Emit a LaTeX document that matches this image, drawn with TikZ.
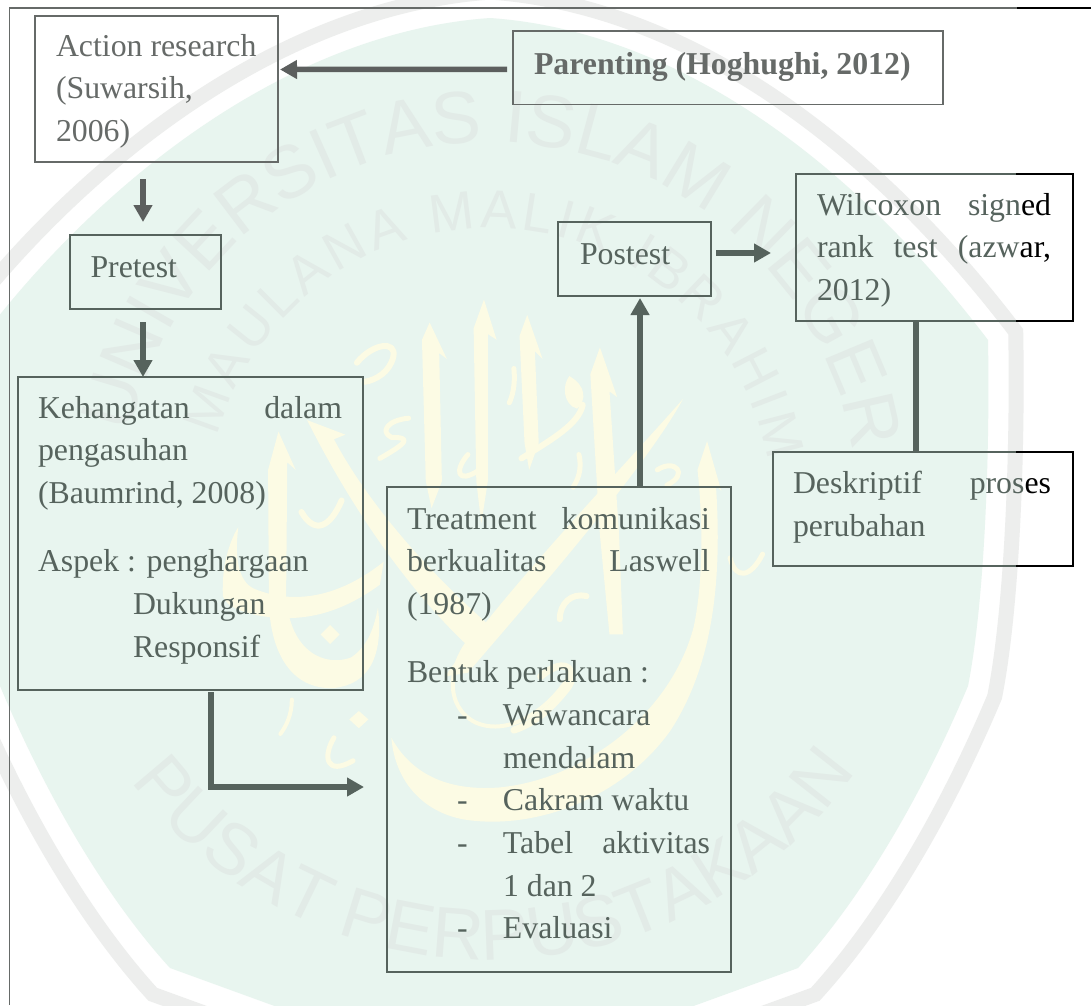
\documentclass[tikz,border=0pt]{standalone}
\usepackage{fontspec}
\setmainfont{Liberation Serif}
\setsansfont{Liberation Sans}
\usetikzlibrary{arrows.meta,decorations.text,calc}
\definecolor{ink}{HTML}{56635D}
\definecolor{inkgrey}{HTML}{666A68}
\definecolor{wmgreen}{HTML}{E8F5EF}
\definecolor{wmring}{HTML}{EDEEED}
\definecolor{wmtext}{HTML}{E2EBE7}
\definecolor{wmyellow}{HTML}{FCFBE4}
\tikzset{
  boxnode/.style={draw=ink,line width=1.5pt,anchor=north west,inner sep=0pt,outer sep=0pt},
  greybox/.style={boxnode,draw=inkgrey},
  label/.style={anchor=base west,inner sep=0pt,outer sep=0pt,text=ink},
  greylabel/.style={label,text=inkgrey},
  arr/.style={draw=ink,line width=5.5pt,-{Triangle[length=17pt,width=18pt]}},
  greyarr/.style={arr,draw=inkgrey!90!black},
  plain/.style={draw=ink,line width=6pt},
  blackedge/.style={draw=black,line width=1.7pt,line cap=rect},
  cal/.style={draw=wmyellow,line cap=round,line join=round},
  calfill/.style={fill=wmyellow},
}
\newcommand{\txt}{\fontsize{31.8}{42.7}\selectfont}
\newcommand{\block}[2]{\parbox[t]{#1}{\setlength{\parindent}{0pt}\txt\raggedright #2}}
\newcommand{\jl}[3]{\makebox[#1][s]{#2\hfill #3}}
\newcommand{\wmpath}{(490,18) .. controls (690,32) and (865,178) .. (988,340) .. controls (990,450) and (985,600) .. (968,686) .. controls (920,800) and (860,900) .. (798,968) -- (600,1040) -- (368,1040) -- (170,968) .. controls (108,900) and (48,800) .. (0,686) .. controls (-17,600) and (-22,450) .. (-20,340) .. controls (103,178) and (290,32) .. (490,18) -- cycle}
\begin{document}
\begin{tikzpicture}[x=1pt,y=-1pt]
\useasboundingbox (0,0) rectangle (1091,1005);
\fill[white] (0,0) rectangle (1091,1005);
% watermark
\begin{scope}
\clip (0,0) rectangle (1091,1005);
\begin{scope}[shift={(484,490)},scale=1.055,shift={(-484,-490)}]
\draw[wmring,line width=15pt] \wmpath;
\end{scope}
\fill[wmgreen] \wmpath;
\path[decorate,decoration={text along path,text align=fit to path,
  text={|\sffamily\fontsize{74}{74}\selectfont\color{wmtext}|UNIVERSITAS ISLAM NEGERI}}]
  plot[domain=168:8,samples=50,variable=\t] ({490+368*cos(\t)},{510-368*sin(\t)});
\path[decorate,decoration={text along path,text align=fit to path,
  text={|\sffamily\fontsize{54}{54}\selectfont\color{wmtext}|MAULANA MALIK IBRAHIM}}]
  plot[domain=165:10,samples=50,variable=\t] ({490+282*cos(\t)},{510-282*sin(\t)});
\path[decorate,decoration={text along path,text align=fit to path,
  text={|\sffamily\fontsize{72}{72}\selectfont\color{wmtext}|PUSAT PERPUSTAKAAN}}]
  plot[domain=217:323,samples=50,variable=\t] ({490+450*cos(\t)},{510-450*sin(\t)});
% calligraphy
\begin{scope}[shift={(200,290)},scale=.3827]
% tall letters
\fill[calfill] (600,85) -- (645,180) -- (625,165) -- (632,500) -- (605,570) -- (590,500) -- (580,130) -- cycle;
\fill[calfill] (742,25) -- (775,130) -- (752,115) -- (752,500) -- (735,610) -- (722,500) -- (715,100) -- cycle;
\fill[calfill] (855,65) -- (895,180) -- (875,160) -- (885,400) -- (860,470) -- (848,400) -- (835,120) -- cycle;
\fill[calfill] (1045,150) -- (1090,280) -- (1070,265) -- (1095,640) -- (1105,900) -- (1070,900) -- (1045,640) -- (1020,220) -- cycle;
\fill[calfill] (205,370) -- (250,470) -- (228,450) -- (225,800) .. controls (235,950) and (330,985) .. (395,960) .. controls (440,930) and (455,880) .. (465,830) .. controls (480,960) and (440,1030) .. (350,1040) .. controls (240,1045) and (185,950) .. (180,820) -- (178,470) -- cycle;
% long bowl, lower right
\fill[calfill] (1325,395) -- (1362,525) -- (1348,510) .. controls (1365,760) and (1340,980) .. (1230,1150) .. controls (1110,1320) and (890,1410) .. (700,1385) .. controls (590,1370) and (510,1290) .. (500,1170) .. controls (550,1260) and (640,1310) .. (780,1300) .. controls (1000,1280) and (1230,1110) .. (1290,880) .. controls (1320,740) and (1310,560) .. (1300,470) -- cycle;
% crossing strokes
\fill[calfill] (280,340) -- (380,378) -- (350,390) .. controls (440,560) and (600,740) .. (760,880) -- (700,930) .. controls (540,780) and (390,560) .. (280,340) -- cycle;
\fill[calfill] (1262,285) .. controls (1160,470) and (880,790) .. (700,1000) -- (640,1010) .. controls (800,780) and (1090,480) .. (1262,285) -- cycle;
\fill[calfill] (60,800) .. controls (55,720) and (80,650) .. (100,620) .. controls (90,700) and (100,760) .. (140,780) .. controls (260,830) and (380,790) .. (480,710) -- (470,770) .. controls (360,850) and (260,870) .. (150,850) .. controls (110,840) and (70,830) .. (60,800) -- cycle;
\draw[cal,line width=4pt] (725,890) .. controls (640,980) and (640,1090) .. (720,1130) .. controls (810,1170) and (920,1090) .. (970,1000);
\draw[cal,line width=7pt] (890,1010) .. controls (960,950) and (990,1000) .. (960,1040) .. controls (920,1090) and (880,1130) .. (820,1150);
% small marks
\draw[cal,line width=6pt] (410,190) .. controls (450,140) and (515,130) .. (505,175) .. controls (495,215) and (460,235) .. (430,240);
\draw[cal,line width=5pt] (470,440) .. controls (540,400) and (555,385) .. (500,385) .. controls (470,370) and (490,340) .. (545,335);
\draw[cal,line width=5pt] (820,205) .. controls (825,250) and (815,280) .. (808,295);
\draw[cal,line width=5pt] (700,430) .. controls (665,470) and (670,510) .. (730,470);
\draw[cal,line width=6pt] (1000,300) .. controls (990,350) and (920,390) .. (840,440);
\fill[calfill] (965,225) .. controls (1010,250) and (1010,290) .. (985,310) .. controls (950,300) and (945,250) .. (965,225) -- cycle;
\draw[cal,line width=5pt] (990,430) .. controls (1000,470) and (985,500) .. (975,515);
\draw[cal,line width=5pt] (1195,470) .. controls (1240,440) and (1280,480) .. (1220,510);
\draw[cal,line width=5pt] (1470,690) .. controls (1440,750) and (1400,760) .. (1385,700);
\fill[calfill] (340,875) -- (365,900) -- (340,925) -- (315,900) -- cycle;
\fill[calfill] (415,1100) -- (440,1122) -- (415,1145) -- (390,1122) -- cycle;
\draw[cal,line width=4pt] (240,1070) .. controls (240,1110) and (225,1140) .. (210,1160);
\draw[cal,line width=5pt] (350,1170) .. controls (320,1220) and (330,1270) .. (400,1230);
\draw[cal,line width=6pt] (370,550) .. controls (340,620) and (300,640) .. (265,580);
\draw[cal,line width=6pt] (1010,800) .. controls (970,790) and (940,820) .. (940,860);
\end{scope}
\end{scope}
% outer frame
\coordinate (cut) at (1017,0);
\coordinate (fnw) at (9.6,8);
\coordinate (fne) at (1091,8);
\coordinate (fsw) at (9.6,1005);
\draw[inkgrey,line width=1.5pt] (fsw) -- (fnw) -- (cut |- fnw);
\draw[black,line width=1.7pt] (cut |- fnw) -- (fne);
% boxes
\node[greybox,minimum width=243pt,minimum height=146pt] (action) at (35,16) {};
\node[greybox,minimum width=430pt,minimum height=73.5pt] (parenting) at (513,31) {};
\node[boxnode,minimum width=151pt,minimum height=74pt] (pretest) at (70,235) {};
\node[boxnode,minimum width=153pt,minimum height=74pt] (postest) at (558,222) {};
\node[boxnode,minimum width=277pt,minimum height=147pt] (wilcoxon) at (796,174) {};
\node[boxnode,minimum width=300pt,minimum height=114pt] (deskriptif) at (773,452) {};
\node[boxnode,minimum width=345pt,minimum height=313pt] (kehangatan) at (18,377) {};
\node[boxnode,minimum width=344pt,minimum height=485pt] (treatment) at (387,487) {};
% black parts of the right-hand boxes
\draw[blackedge] (cut |- wilcoxon.north) -- (wilcoxon.north east) -- (wilcoxon.south east) -- (cut |- wilcoxon.south);
\draw[blackedge] (cut |- deskriptif.north) -- (deskriptif.north east) -- (deskriptif.south east) -- (cut |- deskriptif.south);
% texts
\node[greylabel] (tAction) at (56,56) {\block{215pt}{Action research\\(Suwarsih,\\2006)}};
\node[greylabel] (tParenting) at (534,74) {\txt\bfseries Parenting (Hoghughi, 2012)};
\node[label] (tPretest) at (90.5,277) {\txt Pretest};
\node[label] (tPostest) at (580,264) {\txt Postest};
\node[label] (tWilcoxon) at (817,215) {\block{240pt}{\jl{234pt}{Wilcoxon}{sign\textcolor{black}{ed}}\\\jl{234pt}{rank\hfill test}{(azw\textcolor{black}{ar,}}\\2012)}};
\node[label] (tDeskriptif) at (793,493.5) {\block{265pt}{\jl{258pt}{Deskriptif}{pros\textcolor{black}{es}}\\perubahan}};
\node[label] (tKehangatan) at (38,418) {\block{310pt}{\jl{304pt}{Kehangatan}{dalam}\\pengasuhan\\(Baumrind, 2008)\\[25.5pt]Aspek : penghargaan\\\hspace*{95pt}Dukungan\\\hspace*{95pt}Responsif}};
\node[label] (tTreatment) at (407,529) {\block{310pt}{\jl{303pt}{Treatment}{komunikasi}\\\jl{303pt}{berkualitas}{Laswell}\\(1987)\\[25.5pt]Bentuk perlakuan :\\\hspace*{50pt}\makebox[46pt][l]{-}Wawancara\\\hspace*{96pt}mendalam\\\hspace*{50pt}\makebox[46pt][l]{-}Cakram waktu\\\hspace*{50pt}\makebox[46pt][l]{-}\jl{207pt}{Tabel}{aktivitas}\\\hspace*{96pt}1 dan 2\\\hspace*{50pt}\makebox[46pt][l]{-}Evaluasi}};
% connectors
\draw[greyarr] ([xshift=-6pt,yshift=-1.5pt]parenting.west) -- ([xshift=2pt,yshift=19.5pt]action.east);
\draw[greyarr] ([xshift=-13.5pt,yshift=-17pt]action.south) -- ([xshift=-2.5pt,yshift=13pt]pretest.north);
\draw[arr] ([xshift=-2.5pt,yshift=-13pt]pretest.south) -- ([xshift=-47.5pt]kehangatan.north);
\draw[arr] ([xshift=5pt,yshift=6pt]postest.east) -- ([xshift=-25pt,yshift=-5.5pt]wilcoxon.west);
\draw[arr] ([xshift=81pt]treatment.north) -- ([xshift=5.5pt,yshift=-2pt]postest.south);
\draw[plain] ([xshift=-18.5pt]wilcoxon.south) -- ([xshift=-7pt]deskriptif.north);
\draw[arr] ([xshift=20.5pt,yshift=-2pt]kehangatan.south) |- ([xshift=-23pt,yshift=-57.5pt]treatment.west);
\end{tikzpicture}
\end{document}
